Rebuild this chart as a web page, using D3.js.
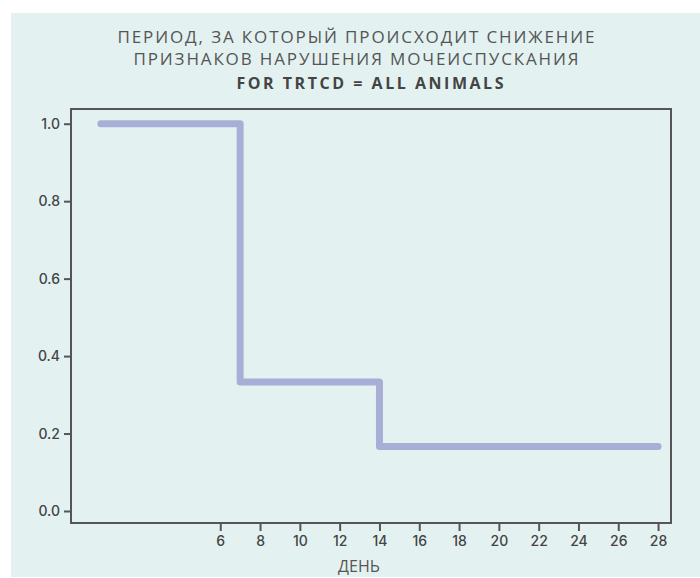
<!DOCTYPE html>
<html lang="ru">
<head>
<meta charset="utf-8">
<title>Kaplan-Meier</title>
<script src="https://cdn.jsdelivr.net/npm/d3@7"></script>
<style>
  body { margin: 0; background: #fff; }
  text { font-family: "Open Sans", sans-serif; }
</style>
</head>
<body>
<script>
// data
var days = [0, 7, 14, 28];
var survival = [1, 0.3333, 0.1667, 0.1667];
var xTicks = [6, 8, 10, 12, 14, 16, 18, 20, 22, 24, 26, 28];
var yTicks = [0, 0.2, 0.4, 0.6, 0.8, 1.0];
var titleLines = ["ПЕРИОД, ЗА КОТОРЫЙ ПРОИСХОДИТ СНИЖЕНИЕ", "ПРИЗНАКОВ НАРУШЕНИЯ МОЧЕИСПУСКАНИЯ"];
var subTitle = "FOR TRTCD = ALL ANIMALS";
var xLabel = "ДЕНЬ";

var W = 700, H = 578;
var svg = d3.select("body").append("svg")
    .attr("width", W)
    .attr("height", H);

// background panel
svg.append("rect")
    .attr("x", 11).attr("y", 13)
    .attr("width", W - 11).attr("height", H - 14)
    .attr("fill", "#e3f2f1");

// plot frame edges (don't use "top", it's window.top)
var pLeft = 71, pRight = 671, pTop = 109, pBottom = 523;

var x = d3.scaleLinear().domain([-1.5, 28.65]).range([pLeft, pRight]);
var y = d3.scaleLinear().domain([-0.031, 1.038]).range([pBottom, pTop]);

// titles
var titleY = [43, 65];
titleLines.forEach(function(t, i) {
    svg.append("text")
        .attr("x", 356).attr("y", titleY[i])
        .attr("text-anchor", "middle")
        .attr("font-size", 17)
        .attr("fill", "#555")
        .attr("textLength", i == 0 ? 477 : 445)
        .attr("lengthAdjust", "spacing")
        .text(t);
});
svg.append("text")
    .attr("x", 370).attr("y", 89)
    .attr("text-anchor", "middle")
    .attr("font-size", 16)
    .attr("font-weight", 700)
    .attr("fill", "#444")
    .attr("textLength", 267)
    .attr("lengthAdjust", "spacing")
    .text(subTitle);

// axes
var xAxis = svg.append("g")
    .attr("transform", "translate(0," + pBottom + ")")
    .call(d3.axisBottom(x).tickValues(xTicks).tickSize(8).tickPadding(5).tickFormat(d3.format("d")));
var yAxis = svg.append("g")
    .attr("transform", "translate(" + pLeft + ",0)")
    .call(d3.axisLeft(y).tickValues(yTicks).tickSize(7).tickPadding(4).tickFormat(d3.format(".1f")));

[xAxis, yAxis].forEach(function(a) {
    a.select(".domain").remove();
    a.selectAll(".tick line").attr("stroke", "#555").attr("stroke-width", 2);
    a.selectAll(".tick text")
        .attr("fill", "#444")
        .attr("font-size", 14)
        .attr("font-weight", 500)
        .style("font-family", "Inter, sans-serif");
});

// frame
svg.append("rect")
    .attr("x", pLeft).attr("y", pTop)
    .attr("width", pRight - pLeft).attr("height", pBottom - pTop)
    .attr("fill", "none")
    .attr("stroke", "#555")
    .attr("stroke-width", 2);

// survival step line
var pts = days.map(function(d, i) { return [d, survival[i]]; });
var line = d3.line()
    .x(function(d) { return x(d[0]); })
    .y(function(d) { return y(d[1]); })
    .curve(d3.curveStepAfter);

svg.append("path")
    .datum(pts)
    .attr("d", line)
    .attr("fill", "none")
    .attr("stroke", "#a9aed6")
    .attr("stroke-width", 7)
    .attr("stroke-linecap", "round")
    .attr("stroke-linejoin", "round");

// x label
svg.append("text")
    .attr("x", 359).attr("y", 572)
    .attr("text-anchor", "middle")
    .attr("font-size", 16)
    .attr("fill", "#555")
    .text(xLabel);
</script>
</body>
</html>
